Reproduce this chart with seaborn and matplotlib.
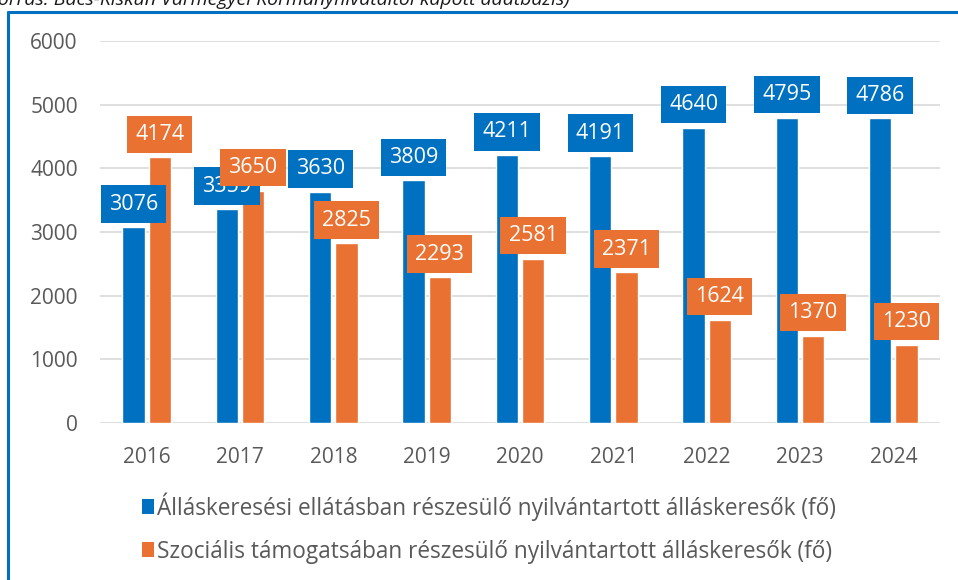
import pandas as pd
import matplotlib.pyplot as plt
import seaborn as sns
from matplotlib.patches import Patch
from matplotlib.lines import Line2D

years = ['2016', '2017', '2018', '2019', '2020', '2021', '2022', '2023', '2024']
ellatas = [3076, 3359, 3630, 3809, 4211, 4191, 4640, 4795, 4786]
szocialis = [4174, 3650, 2825, 2293, 2581, 2371, 1624, 1370, 1230]
series_names = ['Álláskeresési ellátásban részesülő nyilvántartott álláskeresők (fő)',
                'Szociális támogatsában részesülő nyilvántartott álláskeresők (fő)']
colors = ['#0070C0', '#E97132']
source = '(Forrás: Bács-Kiskun Vármegyei Kormányhivataltól kapott adatbázis)'

df = pd.DataFrame({
    'Év': years * 2,
    'Fő': ellatas + szocialis,
    'Sorozat': [series_names[0]] * len(years) + [series_names[1]] * len(years),
})

sns.set_style('white')
plt.rcParams['font.family'] = ['Open Sans', 'DejaVu Sans']

fig = plt.figure(figsize=(9.58, 5.8), dpi=100)
ax = fig.add_axes([100 / 958, 1 - 423 / 580, 840 / 958, 382 / 580])

sns.barplot(data=df, x='Év', y='Fő', hue='Sorozat', palette=colors,
            width=0.56, gap=0.15, ax=ax, legend=False, saturation=1)

ax.set_ylim(0, 6000)
ax.set_xlim(-0.5, len(years) - 0.5)
ax.set_yticks(range(0, 6001, 1000))
ax.grid(axis='y', color='#d9d9d9', linewidth=1.2)
ax.set_axisbelow(True)
for s in ax.spines.values():
    s.set_visible(False)
ax.tick_params(length=0, labelsize=15, labelcolor='#595959')
ax.tick_params(axis='y', pad=16)
ax.tick_params(axis='x', pad=17)
ax.set_xlabel('')
ax.set_ylabel('')

# value labels in coloured boxes
for cont, col in zip(ax.containers, colors):
    ax.bar_label(cont, padding=9, color='white', fontsize=15.5,
                 bbox=dict(boxstyle='square,pad=0.38', fc=col, ec='none'))

handles = [Patch(facecolor=c, edgecolor='none') for c in colors]
fig.legend(handles, series_names, loc='center left', bbox_to_anchor=(122 / 958, 1 - 528 / 580),
           frameon=False, fontsize=16.3, labelcolor='#595959', handlelength=0.5,
           handleheight=0.65, handletextpad=0.15, labelspacing=0.85)

# source line cut off at the top and blue frame
fig.text(-17 / 958, 1 - 5 / 580, source, style='italic', fontsize=14, color='#1a1a1a', va='baseline')
fig.add_artist(Line2D([8 / 958, 1], [1 - 12 / 580, 1 - 12 / 580], color='#0070C0', lw=2.2))
fig.add_artist(Line2D([8 / 958, 8 / 958], [0, 1 - 12 / 580], color='#0070C0', lw=2.2))

fig.savefig('out.png', dpi=100)
